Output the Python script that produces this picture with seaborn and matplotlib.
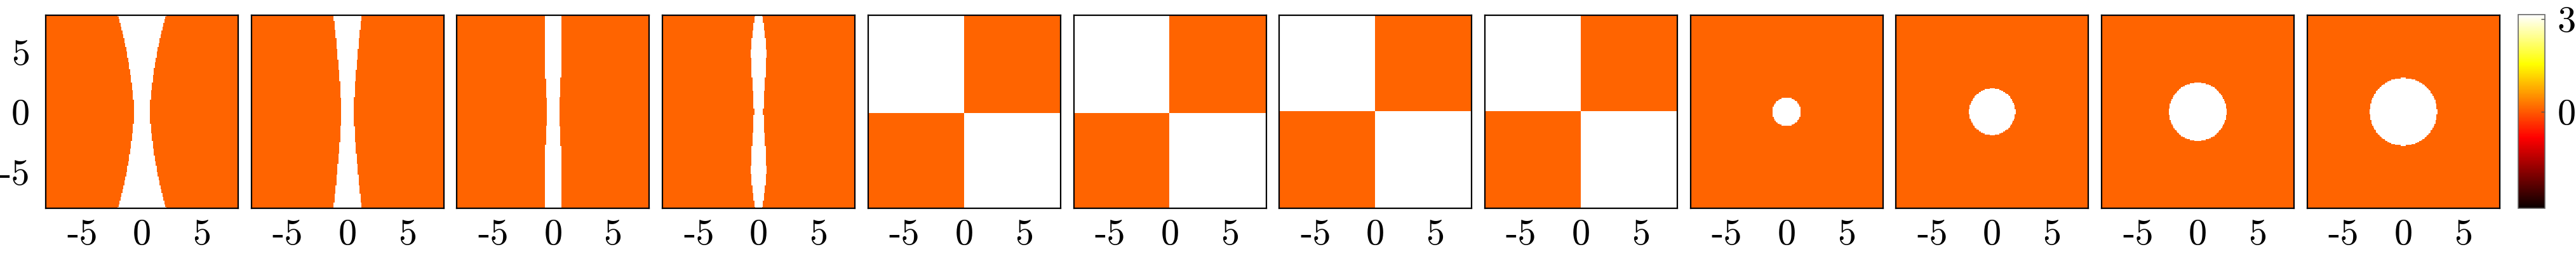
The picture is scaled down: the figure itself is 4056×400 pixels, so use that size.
import numpy as np
import matplotlib
matplotlib.use("Agg")
import matplotlib.pyplot as plt
import seaborn as sns

# grid for every panel: square domain [-8, 8] x [-8, 8]
extent = 8.0
n_cells = 201

# phase values (hot, -pi .. pi)
phase_white = np.pi
phase_orange = 0.09

# panels 1-4: half-width of the white vertical band at |y|
band_abs_y = [0, 1, 2, 3, 4, 5, 6, 7, 8]
band_half_widths = [
    [0.65, 0.72, 0.82, 0.95, 1.10, 1.28, 1.50, 1.74, 2.00],
    [0.52, 0.55, 0.60, 0.68, 0.77, 0.86, 0.95, 1.06, 1.17],
    [0.50, 0.55, 0.60, 0.65, 0.65, 0.65, 0.65, 0.65, 0.65],
    [0.39, 0.43, 0.50, 0.57, 0.63, 0.65, 0.57, 0.45, 0.32],
]

# panels 5-8: white in upper-left and lower-right quadrants
quad_split_x = [0.0, 0.0, 0.0, 0.0]
quad_split_y = [-0.1, -0.1, 0.05, 0.05]

# panels 9-12: radius of the white disk
disk_radii = [1.20, 1.93, 2.42, 2.81]

tick_values = [-5, 0, 5]
tick_labels = ["-5", "0", "5"]
cbar_ticks = [0, 3]
cbar_labels = ["0", "3"]

plt.rcParams["font.family"] = "serif"
plt.rcParams["font.serif"] = ["cmr10"]
plt.rcParams["axes.unicode_minus"] = False

coords = np.linspace(-extent, extent, n_cells)
X, Y = np.meshgrid(coords, coords[::-1])


def band_field(widths):
    half = np.interp(np.abs(Y), band_abs_y, widths)
    return np.where(np.abs(X) <= half, phase_white, phase_orange)


def quad_field(x0, y0):
    white = ((X < x0) & (Y > y0)) | ((X >= x0) & (Y <= y0))
    return np.where(white, phase_white, phase_orange)


def disk_field(r):
    return np.where(X ** 2 + Y ** 2 <= r ** 2, phase_white, phase_orange)


fields = [band_field(w) for w in band_half_widths]
fields += [quad_field(a, b) for a, b in zip(quad_split_x, quad_split_y)]
fields += [disk_field(r) for r in disk_radii]

W, H = 4056, 400
fig = plt.figure(figsize=(W / 100, H / 100), dpi=100)

# tick positions in heatmap cell units
def to_cell(v):
    return (v + extent) * (n_cells - 1) / (2 * extent) + 0.5

def to_row(v):
    return (extent - v) * (n_cells - 1) / (2 * extent) + 0.5

panel_w, panel_h = 303, 304
left0, step, top = 72, 323.7, 24
fsize = 42

for k, field in enumerate(fields):
    x0 = left0 + k * step
    ax = fig.add_axes([x0 / W, 1 - (top + panel_h) / H, panel_w / W, panel_h / H])
    sns.heatmap(field, ax=ax, cmap="hot", vmin=-np.pi, vmax=np.pi,
                cbar=False, xticklabels=False, yticklabels=False,
                rasterized=True)
    ax.set_xticks([to_cell(v) for v in tick_values])
    ax.set_xticklabels(tick_labels, rotation=0)
    if k == 0:
        ax.set_yticks([to_row(v) for v in tick_values])
        ax.set_yticklabels(tick_labels, rotation=0)
    else:
        ax.set_yticks([])
    ax.tick_params(length=0, labelsize=fsize)
    ax.tick_params(axis="x", pad=12)
    ax.tick_params(axis="y", pad=18)
    for s in ax.spines.values():
        s.set_visible(True)
        s.set_color("black")
        s.set_linewidth(1.6)

# colour bar
cax = fig.add_axes([3965 / W, 1 - 328 / H, 42 / W, 305 / H])
cb = fig.colorbar(ax.collections[0], cax=cax)
cb.set_ticks(cbar_ticks)
cb.set_ticklabels(cbar_labels)
cb.outline.set_edgecolor("0.4")
cb.outline.set_linewidth(1.2)
cax.tick_params(direction="in", length=4, width=1, color="0.3",
                labelsize=fsize, pad=14)

fig.savefig("out.png", dpi=100)
